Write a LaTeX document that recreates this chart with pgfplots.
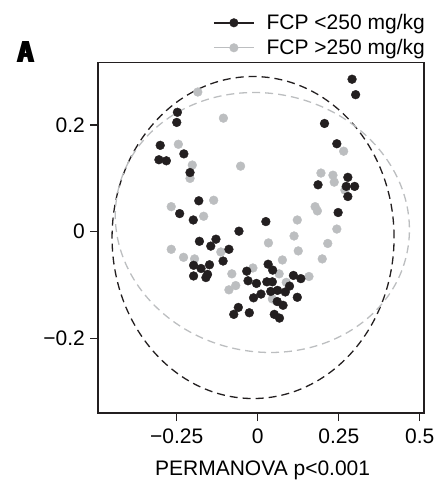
\documentclass[border=0pt]{standalone}
\usepackage{pgfplots}
\pgfplotsset{compat=1.18}
\usepackage{graphicx}
\usepackage{fontspec}
\setmainfont{Liberation Sans}
\definecolor{dk}{HTML}{231F20}
\definecolor{lg}{HTML}{BCBEC0}
\newcommand\fs{\fontsize{21bp}{25bp}\selectfont}
\begin{document}
\begin{tikzpicture}
\begin{axis}[
 scale only axis, width=326bp, height=350.3bp,
 xmin=-0.493, xmax=0.513, ymin=-0.340, ymax=0.317,
 axis line style={line width=1.2bp, dk},
 xtick={-0.25,0,0.25,0.5}, xticklabels={−0.25,0,0.25,0.5},
 ytick={-0.2,0,0.2}, yticklabels={−0.2,0,0.2},
 tick align=outside, tick pos=left, major tick length=8bp,
 tick style={line width=1.2bp, dk},
 ticklabel style={font=\fs, inner sep=0pt},
 xticklabel style={yshift=-8bp},
 yticklabel style={xshift=-5bp},
 xlabel={PERMANOVA p<0.001},
 xlabel style={font=\fs, at={(axis description cs:0.505,0)}, anchor=base, yshift=-62bp, inner sep=0pt},
 legend style={at={(axis description cs:1,1)}, anchor=south east, xshift=1bp, yshift=3.7bp,
   draw=none, fill=none, inner sep=0pt, font=\fs, row sep=5bp, column sep=12bp,
   nodes={inner sep=0pt, text height=16bp, text depth=4bp}},
 legend cell align=left,
]
\addlegendimage{legend image code/.code={\draw[dk, line width=1.5bp] (0bp,1bp) -- (40bp,1bp); \fill[dk] (20bp,1bp) circle (4.3bp);}}
\addlegendentry{FCP <250 mg/kg}
\addlegendimage{legend image code/.code={\draw[lg, line width=1.2bp] (0bp,1bp) -- (40bp,1bp); \fill[lg] (20bp,1bp) circle (4.3bp);}}
\addlegendentry{FCP >250 mg/kg}

\addplot[only marks, mark=*, mark size=4.4bp, color=lg, forget plot] table {
x y
-0.185 0.262
-0.106 0.213
-0.245 0.164
-0.202 0.125
-0.209 0.100
-0.053 0.123
-0.136 0.059
-0.267 0.047
-0.167 0.029
0.033 -0.021
-0.267 -0.033
-0.229 -0.048
-0.195 -0.051
-0.114 -0.038
0.265 0.151
0.195 0.110
0.232 0.106
0.236 0.093
0.269 0.078
0.177 0.047
0.184 0.039
0.122 0.022
0.244 0.005
0.112 -0.008
0.216 -0.022
0.125 -0.036
0.199 -0.051
0.076 -0.053
-0.015 -0.068
0.066 -0.079
0.158 -0.084
-0.080 -0.079
-0.068 -0.101
-0.089 -0.109
0.088 -0.095
0.045 -0.126
};
\addplot[only marks, mark=*, mark size=4.4bp, color=dk, forget plot] table {
x y
-0.248 0.224
-0.250 0.205
-0.301 0.162
-0.305 0.135
-0.282 0.133
-0.228 0.146
-0.209 0.111
-0.182 0.058
-0.241 0.034
-0.199 0.022
0.025 0.019
-0.058 0.001
-0.180 -0.018
-0.129 -0.014
-0.145 -0.027
-0.089 -0.033
0.291 0.286
0.302 0.257
0.206 0.203
0.244 0.165
0.278 0.102
0.186 0.088
0.273 0.085
0.299 0.085
0.278 0.066
0.248 0.036
-0.107 -0.055
-0.198 -0.063
-0.175 -0.069
-0.149 -0.062
-0.198 -0.083
-0.155 -0.080
-0.160 -0.086
-0.034 -0.074
-0.030 -0.092
-0.004 -0.097
0.032 -0.061
0.046 -0.072
0.110 -0.082
0.133 -0.088
0.028 -0.094
0.045 -0.094
0.098 -0.102
0.040 -0.112
0.061 -0.110
0.085 -0.113
0.010 -0.117
-0.013 -0.124
0.122 -0.123
0.060 -0.131
0.078 -0.138
-0.060 -0.142
-0.074 -0.155
-0.026 -0.152
0.051 -0.155
0.067 -0.162
};
\draw[dk, line width=1.3bp, dash pattern=on 8bp off 5bp] (axis cs:-0.0145,-0.0109) ellipse [x radius=141bp, y radius=161bp];
\draw[lg, line width=1.3bp, dash pattern=on 8bp off 5bp, rotate around={-12:(axis cs:0.0142,0.0173)}] (axis cs:0.0142,0.0173) ellipse [x radius=147.8bp, y radius=129.1bp];
\end{axis}
\pgfresetboundingbox
\path[use as bounding box] (-98bp,-76bp) rectangle (341bp,413bp);
\node[anchor=base west, inner sep=0pt] at (-82bp,350bp) {\resizebox{19bp}{21bp}{\bfseries\rlap{A}\hspace{0.06em}\rlap{A}\hspace{0.06em}A}};
\end{tikzpicture}
\end{document}
